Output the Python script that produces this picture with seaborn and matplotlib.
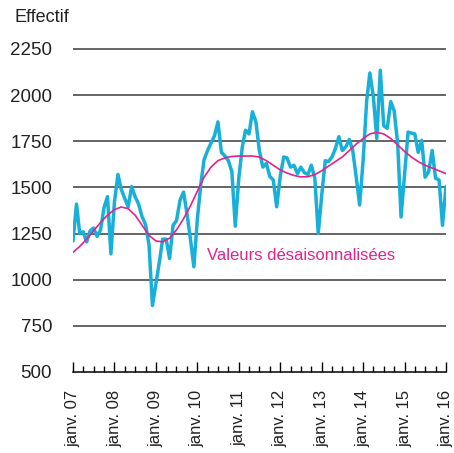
import matplotlib
matplotlib.use("Agg")
import matplotlib.pyplot as plt
import matplotlib.dates as mdates
from matplotlib.ticker import FuncFormatter
import pandas as pd
import seaborn as sns

# ---- data ----
raw_values = [
    1210, 1410, 1250, 1260, 1205, 1265, 1280, 1235, 1270, 1390, 1450, 1140,  # 2007
    1420, 1570, 1490, 1440, 1395, 1505, 1450, 1410, 1340, 1300, 1190, 860,   # 2008
    980, 1100, 1220, 1220, 1115, 1295, 1320, 1430, 1475, 1360, 1220, 1070,   # 2009
    1330, 1520, 1650, 1700, 1740, 1780, 1855, 1690, 1670, 1645, 1585, 1290,  # 2010
    1550, 1720, 1810, 1790, 1910, 1855, 1700, 1610, 1630, 1560, 1540, 1395,  # 2011
    1560, 1665, 1660, 1610, 1620, 1575, 1610, 1580, 1570, 1620, 1550, 1250,  # 2012
    1460, 1645, 1640, 1665, 1710, 1775, 1700, 1720, 1760, 1700, 1555, 1405,  # 2013
    1650, 1970, 2120, 1990, 1765, 2135, 1835, 1820, 1965, 1915, 1740, 1340,  # 2014
    1570, 1800, 1795, 1790, 1690, 1755, 1555, 1585, 1700, 1550, 1540, 1295,  # 2015
    1505,                                                                    # 2016
]
raw_dates = pd.date_range("2007-01-01", periods=len(raw_values), freq="MS")

# seasonally adjusted values, read every two months
sa_values = [
    1148, 1180, 1220, 1265, 1310, 1350, 1380, 1394, 1385, 1350, 1295, 1240,
    1210, 1205, 1225, 1270, 1330, 1400, 1480, 1555, 1610, 1645, 1660, 1668,
    1670, 1670, 1670, 1665, 1645, 1620, 1595, 1578, 1565, 1557, 1558, 1570,
    1590, 1615, 1640, 1665, 1700, 1735, 1765, 1790, 1798, 1790, 1765, 1730,
    1695, 1665, 1640, 1620, 1605, 1590, 1575,
]
sa_dates = pd.date_range("2007-01-01", periods=len(sa_values), freq="2MS")

y_ticks = [500, 750, 1000, 1250, 1500, 1750, 2000, 2250]
y_title = "Effectif"
sa_label = "Valeurs désaisonnalisées"

CYAN = "#18B0D8"
MAGENTA = "#E4218C"

sns.set_theme(style="white")
plt.rcParams["font.family"] = ["Liberation Sans", "DejaVu Sans"]

fig = plt.figure(figsize=(4.54, 4.53), dpi=100)
ax = fig.add_axes([73 / 454, 1 - 372 / 453, (446 - 73) / 454, (372 - 47.15) / 453])

raw_df = pd.DataFrame({"date": raw_dates, "value": raw_values})
sa_df = pd.DataFrame({"date": sa_dates, "value": sa_values})

sns.lineplot(data=raw_df, x="date", y="value", ax=ax, color=CYAN, lw=2.5, zorder=3)
sns.lineplot(data=sa_df, x="date", y="value", ax=ax, color=MAGENTA, lw=1.2, zorder=4)

ax.set_xlim(pd.Timestamp("2007-01-01"), pd.Timestamp("2016-01-01"))
ax.set_ylim(500, 2260)
ax.set_xlabel("")
ax.set_ylabel("")

# gridlines
for v in y_ticks[1:]:
    ax.axhline(v, color="#3a3a3a", lw=1.1, zorder=1)

# y ticks
ax.set_yticks(y_ticks)
ax.set_yticklabels([str(v) for v in y_ticks])
ax.tick_params(axis="y", length=0, pad=15, labelsize=13.5, labelcolor="#222222")

# x ticks
ax.xaxis.set_major_locator(mdates.YearLocator())
ax.xaxis.set_minor_locator(mdates.MonthLocator(bymonth=[4, 7, 10]))
ax.xaxis.set_major_formatter(FuncFormatter(lambda x, p: "janv. %02d" % (mdates.num2date(x).year % 100)))
ax.tick_params(axis="x", which="major", direction="in", length=7, width=1, color="black",
               bottom=True, pad=13, labelsize=12, labelcolor="#222222")
ax.tick_params(axis="x", which="minor", direction="in", length=4, width=1, color="black", bottom=True)
for lbl in ax.get_xticklabels():
    lbl.set_rotation(90)
    lbl.set_ha("center")
    lbl.set_va("top")

for s in ["top", "right", "left"]:
    ax.spines[s].set_visible(False)
ax.spines["bottom"].set_color("black")
ax.spines["bottom"].set_linewidth(1.1)

fig.text(15 / 454, 1 - 18 / 453, y_title, fontsize=13, color="#222222",
         ha="left", va="center")
ax.text(pd.Timestamp("2010-03-25"), 1130, sa_label, fontsize=12, color=MAGENTA,
        ha="left", va="center", zorder=5)

fig.savefig("out.png", dpi=100)
